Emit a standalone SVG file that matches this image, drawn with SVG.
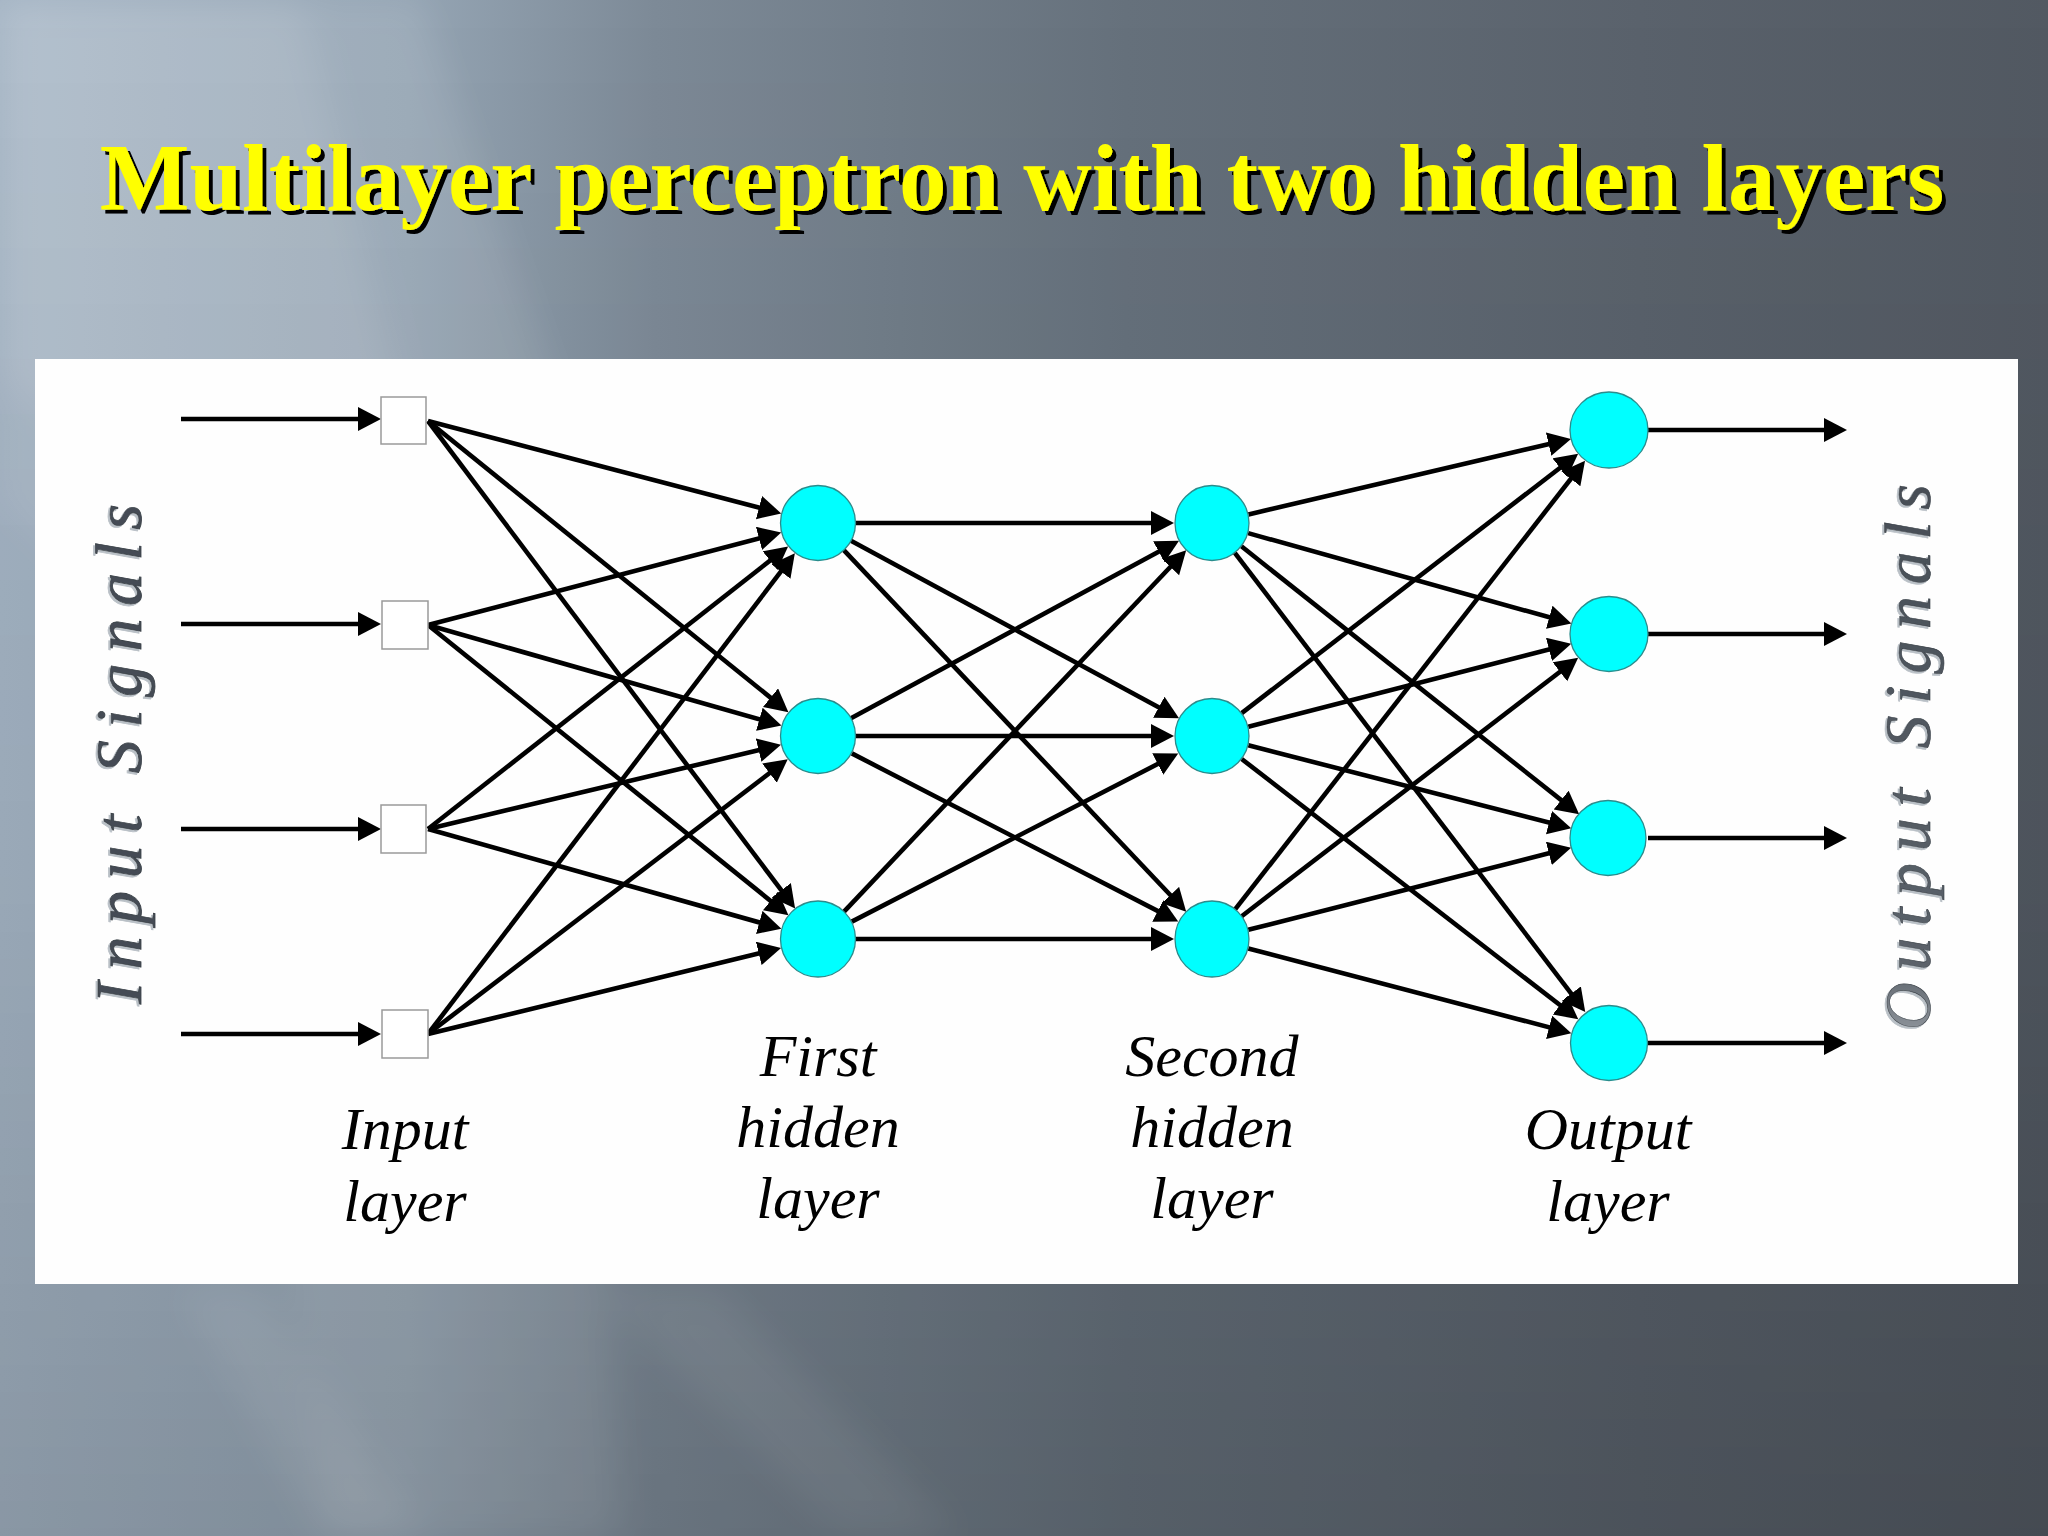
<svg xmlns="http://www.w3.org/2000/svg" width="2048" height="1536" viewBox="0 0 2048 1536">
<defs>
  <linearGradient id="bgH" x1="0" y1="0" x2="1" y2="0">
    <stop offset="0" stop-color="#a4b4c4"/>
    <stop offset="0.2" stop-color="#95a5b4"/>
    <stop offset="0.32" stop-color="#7d8a97"/>
    <stop offset="0.55" stop-color="#66717c"/>
    <stop offset="0.8" stop-color="#5a626c"/>
    <stop offset="1" stop-color="#525962"/>
  </linearGradient>
  <linearGradient id="bgV" x1="0" y1="0" x2="0" y2="1">
    <stop offset="0" stop-color="#000" stop-opacity="0"/>
    <stop offset="0.55" stop-color="#000" stop-opacity="0.06"/>
    <stop offset="1" stop-color="#000" stop-opacity="0.16"/>
  </linearGradient>
  <filter id="blur" x="-50%" y="-50%" width="200%" height="200%">
    <feGaussianBlur stdDeviation="18"/>
  </filter>
  <filter id="shadow" x="-10%" y="-40%" width="120%" height="180%">
    <feDropShadow dx="4" dy="4" stdDeviation="0.5" flood-color="#000" flood-opacity="1"/>
  </filter>
  <filter id="sigshadow" x="-20%" y="-20%" width="140%" height="140%">
    <feDropShadow dx="-2" dy="2" stdDeviation="0.6" flood-color="#b9c0c6" flood-opacity="1"/>
  </filter>
  <linearGradient id="outSig" x1="0" y1="0" x2="1" y2="0">
    <stop offset="0" stop-color="#8c9299"/>
    <stop offset="0.12" stop-color="#5b626a"/>
    <stop offset="1" stop-color="#474e56"/>
  </linearGradient>
  <marker id="ah" markerUnits="userSpaceOnUse" markerWidth="25" markerHeight="26" refX="15" refY="12" orient="auto">
    <path d="M0,0 L23,12 L0,24 z" fill="#000"/>
  </marker>
  <style>
    .title { font-family: "Liberation Serif", "Times New Roman", serif; font-weight: bold; font-size: 95px; fill: #ffff00; }
    .lbl { font-family: "Liberation Serif", "Times New Roman", serif; font-style: italic; font-size: 60px; fill: #000; text-anchor: middle; }
    .sig { font-family: "Liberation Serif", "Times New Roman", serif; font-style: italic; font-size: 66px; text-anchor: middle; }
    .edge { stroke: #000; stroke-width: 4.6; fill: none; marker-end: url(#ah); }
    .neuron { fill: #00ffff; stroke: #2b8c8c; stroke-width: 1.3; }
    .inbox { fill: #ffffff; stroke: #9a9a9a; stroke-width: 1.5; }
  </style>
</defs>

<!-- background -->
<rect x="0" y="0" width="2048" height="1536" fill="url(#bgH)"/>
<g filter="url(#blur)" fill="#ffffff">
  <polygon points="0,0 420,0 560,400 620,1536 330,1536 200,700 0,500" opacity="0.09"/>
  <polygon points="0,0 300,0 420,480 240,520 0,380" opacity="0.10"/>
  <polygon points="180,1290 260,1290 420,1536 320,1536" opacity="0.10"/>
  <polygon points="600,1290 720,1290 960,1536 840,1536" opacity="0.08"/>
</g>
<rect x="0" y="0" width="2048" height="1536" fill="url(#bgV)"/>

<!-- title -->
<g id="title" filter="url(#shadow)">
  <text class="title" x="1022" y="210" text-anchor="middle">Multilayer perceptron with two hidden layers</text>
</g>

<!-- white panel -->
<rect id="panel" x="35" y="359" width="1983" height="925" fill="#fefefe"/>

<!-- side labels -->
<g id="input-signals" filter="url(#sigshadow)">
  <text class="sig" transform="translate(141,754) rotate(-90)" textLength="500" lengthAdjust="spacing" fill="#454c54" stroke="#3a4148" stroke-width="0.8">Input Signals</text>
</g>
<g id="output-signals" filter="url(#sigshadow)">
  <text class="sig" transform="translate(1930,757) rotate(-90)" textLength="546" lengthAdjust="spacing" fill="url(#outSig)" stroke="#3a4148" stroke-width="0.6">Output Signals</text>
</g>

<!-- connectors -->
<g id="connectors">
  <!-- input signals -->
  <line class="edge" x1="181" y1="419" x2="373" y2="419"/>
  <line class="edge" x1="181" y1="624" x2="373" y2="624"/>
  <line class="edge" x1="181" y1="829" x2="373" y2="829"/>
  <line class="edge" x1="181" y1="1034" x2="373" y2="1034"/>
  <!-- input -> first hidden -->
  <line class="edge" x1="428" y1="421" x2="773.5" y2="511.4"/>
  <line class="edge" x1="428" y1="421" x2="782.2" y2="707.1"/>
  <line class="edge" x1="428" y1="421" x2="790.3" y2="902.2"/>
  <line class="edge" x1="428" y1="625" x2="773.5" y2="534.6"/>
  <line class="edge" x1="428" y1="625" x2="773.8" y2="723.4"/>
  <line class="edge" x1="428" y1="625" x2="782.2" y2="910.2"/>
  <line class="edge" x1="428" y1="829" x2="781.8" y2="551.4"/>
  <line class="edge" x1="428" y1="829" x2="773.2" y2="746.7"/>
  <line class="edge" x1="428" y1="829" x2="773.7" y2="926.5"/>
  <line class="edge" x1="428" y1="1034" x2="790.0" y2="559.6"/>
  <line class="edge" x1="428" y1="1034" x2="781.4" y2="764.0"/>
  <line class="edge" x1="428" y1="1034" x2="773.3" y2="949.9"/>
  <!-- first hidden -> second hidden -->
  <line class="edge" x1="856" y1="523" x2="1166" y2="523"/>
  <line class="edge" x1="851" y1="540.8" x2="1172" y2="714.4"/>
  <line class="edge" x1="843.8" y1="550.2" x2="1180.7" y2="906.0"/>
  <line class="edge" x1="851" y1="718.2" x2="1172" y2="544.6"/>
  <line class="edge" x1="856" y1="736" x2="1166" y2="736"/>
  <line class="edge" x1="851.8" y1="753.4" x2="1171.1" y2="917.9"/>
  <line class="edge" x1="843.8" y1="911.8" x2="1180.7" y2="556.0"/>
  <line class="edge" x1="851.8" y1="921.6" x2="1171.1" y2="757.1"/>
  <line class="edge" x1="856" y1="939" x2="1166" y2="939"/>
  <!-- second hidden -> output -->
  <line class="edge" x1="1248.5" y1="514.4" x2="1563.2" y2="440.7"/>
  <line class="edge" x1="1248.1" y1="533.1" x2="1563.7" y2="621.3"/>
  <line class="edge" x1="1241.4" y1="546.3" x2="1572.9" y2="809.4"/>
  <line class="edge" x1="1234.8" y1="552.8" x2="1580.4" y2="1005.6"/>
  <line class="edge" x1="1241.7" y1="713.1" x2="1571.8" y2="458.7"/>
  <line class="edge" x1="1248.3" y1="726.7" x2="1563.5" y2="645.7"/>
  <line class="edge" x1="1248.3" y1="745.3" x2="1563.5" y2="826.3"/>
  <line class="edge" x1="1241.7" y1="759.0" x2="1571.9" y2="1014.3"/>
  <line class="edge" x1="1235.1" y1="909.4" x2="1580.1" y2="467.0"/>
  <line class="edge" x1="1241.7" y1="916.2" x2="1571.8" y2="662.7"/>
  <line class="edge" x1="1248.3" y1="929.8" x2="1563.4" y2="849.6"/>
  <line class="edge" x1="1248.3" y1="948.5" x2="1563.6" y2="1031.1"/>
  <!-- output signals -->
  <line class="edge" x1="1648" y1="430" x2="1839" y2="430"/>
  <line class="edge" x1="1648" y1="634" x2="1839" y2="634"/>
  <line class="edge" x1="1648" y1="838" x2="1839" y2="838"/>
  <line class="edge" x1="1648" y1="1043" x2="1839" y2="1043"/>
</g>

<!-- input layer nodes -->
<g id="in1"><rect class="inbox" x="381" y="397" width="45" height="47"/></g>
<g id="in2"><rect class="inbox" x="382" y="601" width="46" height="48"/></g>
<g id="in3"><rect class="inbox" x="381" y="805" width="45" height="48"/></g>
<g id="in4"><rect class="inbox" x="382" y="1010" width="46" height="48"/></g>

<!-- first hidden layer -->
<g id="h1a"><ellipse class="neuron" cx="818" cy="523" rx="37.5" ry="37.5"/></g>
<g id="h1b"><ellipse class="neuron" cx="818" cy="736" rx="37.5" ry="37.5"/></g>
<g id="h1c"><ellipse class="neuron" cx="818" cy="939" rx="37.5" ry="38"/></g>

<!-- second hidden layer -->
<g id="h2a"><ellipse class="neuron" cx="1212" cy="523" rx="37" ry="37.5"/></g>
<g id="h2b"><ellipse class="neuron" cx="1212" cy="736" rx="37" ry="37.5"/></g>
<g id="h2c"><ellipse class="neuron" cx="1212" cy="939" rx="37" ry="38"/></g>

<!-- output layer -->
<g id="o1"><ellipse class="neuron" cx="1609" cy="430" rx="39" ry="38"/></g>
<g id="o2"><ellipse class="neuron" cx="1609" cy="634" rx="39" ry="37.5"/></g>
<g id="o3"><ellipse class="neuron" cx="1608" cy="838" rx="38" ry="37.5"/></g>
<g id="o4"><ellipse class="neuron" cx="1609" cy="1043" rx="38.5" ry="37.5"/></g>

<!-- layer labels -->
<g id="label-input">
  <text class="lbl" x="405" y="1149">Input</text>
  <text class="lbl" x="405" y="1221">layer</text>
</g>
<g id="label-h1">
  <text class="lbl" x="818" y="1076">First</text>
  <text class="lbl" x="818" y="1147">hidden</text>
  <text class="lbl" x="818" y="1218">layer</text>
</g>
<g id="label-h2">
  <text class="lbl" x="1212" y="1076">Second</text>
  <text class="lbl" x="1212" y="1147">hidden</text>
  <text class="lbl" x="1212" y="1218">layer</text>
</g>
<g id="label-output">
  <text class="lbl" x="1608" y="1149">Output</text>
  <text class="lbl" x="1608" y="1221">layer</text>
</g>
</svg>
